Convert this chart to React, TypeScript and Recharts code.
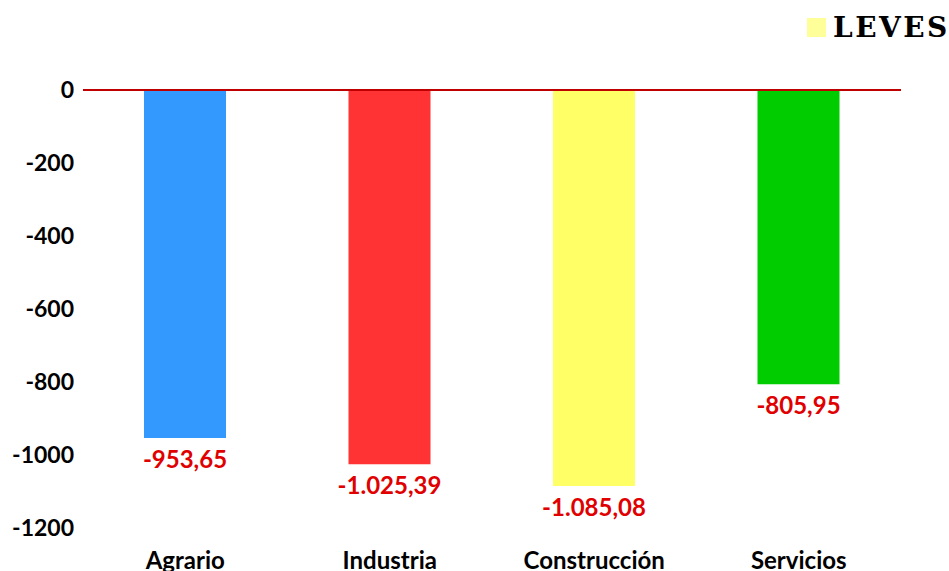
import { BarChart, Bar, XAxis, YAxis, Cell, LabelList, ReferenceLine } from 'recharts';

const sectors = ['Agrario', 'Industria', 'Construcción', 'Servicios'];
const leves = [-953.65, -1025.39, -1085.08, -805.95];
const barColors = ['#3399ff', '#ff3333', '#ffff66', '#00cc00'];
const yTicks = [0, -200, -400, -600, -800, -1000, -1200];
const seriesName = 'LEVES';

const data = sectors.map((sector, i) => ({ sector, value: leves[i] }));

// spanish number format: 1.025,39
const formatEs = (v: number) => {
  const sign = v < 0 ? '-' : '';
  const [int, dec] = Math.abs(v).toFixed(2).split('.');
  const grouped = int.replace(/\B(?=(\d{3})+(?!\d))/g, '.');
  return `${sign}${grouped},${dec}`;
};

const font = 'Lato, sans-serif';

const ValueLabel = (props: any) => {
  const { x, y, width, height, value } = props;
  const bottom = Math.max(Number(y), Number(y) + Number(height));
  return (
    <text
      x={Number(x) + Number(width) / 2}
      y={bottom + 30}
      textAnchor="middle"
      fill="#e00000"
      fontFamily={font}
      fontWeight="bold"
      fontSize={24}
    >
      {formatEs(value)}
    </text>
  );
};

export default function App() {
  return (
    <div style={{ position: 'absolute', left: 0, top: 0, width: 949, height: 571, background: '#fff' }}>
      <BarChart
        width={949}
        height={571}
        data={data}
        margin={{ top: 90, right: 48, bottom: 0, left: 0 }}
      >
        <XAxis
          dataKey="sector"
          axisLine={false}
          tickLine={false}
          tickSize={0}
          tickMargin={24}
          height={43}
          interval={0}
          tick={{ fill: '#000', fontFamily: font, fontWeight: 'bold', fontSize: 24 }}
        />
        <YAxis
          width={83}
          domain={[-1200, 0]}
          ticks={yTicks}
          axisLine={false}
          tickLine={false}
          tickSize={0}
          tickMargin={9}
          tick={{ fill: '#000', fontFamily: font, fontWeight: 'bold', fontSize: 23 }}
        />
        <Bar dataKey="value" name={seriesName} barSize={82} fill="#ffff99" isAnimationActive={false}>
          {data.map((d, i) => (
            <Cell key={d.sector} fill={barColors[i]} />
          ))}
          <LabelList dataKey="value" content={ValueLabel} />
        </Bar>
        <ReferenceLine y={0} stroke="#c00000" strokeWidth={2} />
      </BarChart>
      <div
        style={{
          position: 'absolute',
          left: 807,
          top: 18,
          display: 'flex',
          alignItems: 'center',
          gap: 7,
        }}
      >
        <span style={{ display: 'inline-block', width: 19, height: 19, background: '#ffff99' }} />
        <span
          style={{
            fontFamily: '"DejaVu Serif", serif',
            fontWeight: 'bold',
            fontSize: 28,
            lineHeight: '19px',
            letterSpacing: 2.5,
            color: '#000',
          }}
        >
          {seriesName}
        </span>
      </div>
    </div>
  );
}
